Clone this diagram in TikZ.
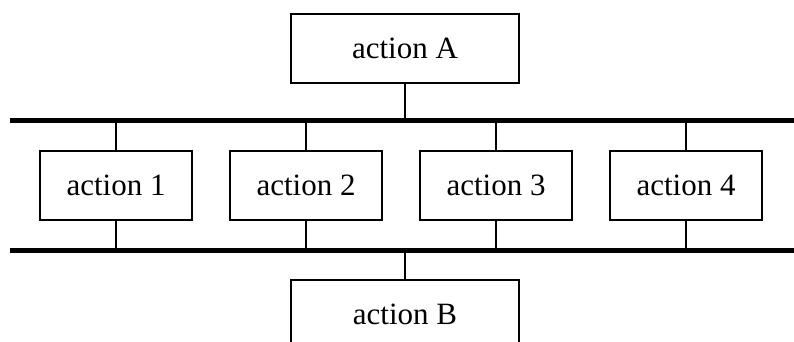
\documentclass[tikz,border=0pt]{standalone}
\usepackage{fontspec}
\setmainfont{Liberation Serif}
\begin{document}
\begin{tikzpicture}[x=1pt,y=-1pt,
  actbox/.style={draw,line width=1.2pt,rectangle,inner sep=0pt,minimum height=69pt,font=\fontsize{31}{36}\selectfont},
  small/.style={actbox,minimum width=152pt},
  wide/.style={actbox,minimum width=228pt},
  bar/.style={line width=5.5pt},
  link/.style={line width=1.2pt}]
\useasboundingbox (0,0) rectangle (794,342);
\clip (0,0) rectangle (794,342);
\coordinate (t0) at (10,120.5);
\coordinate (t1) at (794,120.5);
\coordinate (b0) at (10,250.5);
\coordinate (b1) at (794,250.5);
\node[wide] (A) at (405,48.5) {action A};
\node[small] (n1) at (116,185.5) {action 1};
\node[small] (n2) at (306,185.5) {action 2};
\node[small] (n3) at (496,185.5) {action 3};
\node[small] (n4) at (686,185.5) {action 4};
\node[wide] (B) at (405,314.5) {action B};
\draw[link] (A.south) -- (A.south |- t0);
\foreach \i in {1,2,3,4}{
  \draw[link] (n\i.north) -- (n\i.north |- t0);
  \draw[link] (n\i.south) -- (n\i.south |- b0);
}
\draw[link] (B.north) -- (B.north |- b0);
\draw[bar] (t0) -- (t1);
\draw[bar] (b0) -- (b1);
\end{tikzpicture}
\end{document}
